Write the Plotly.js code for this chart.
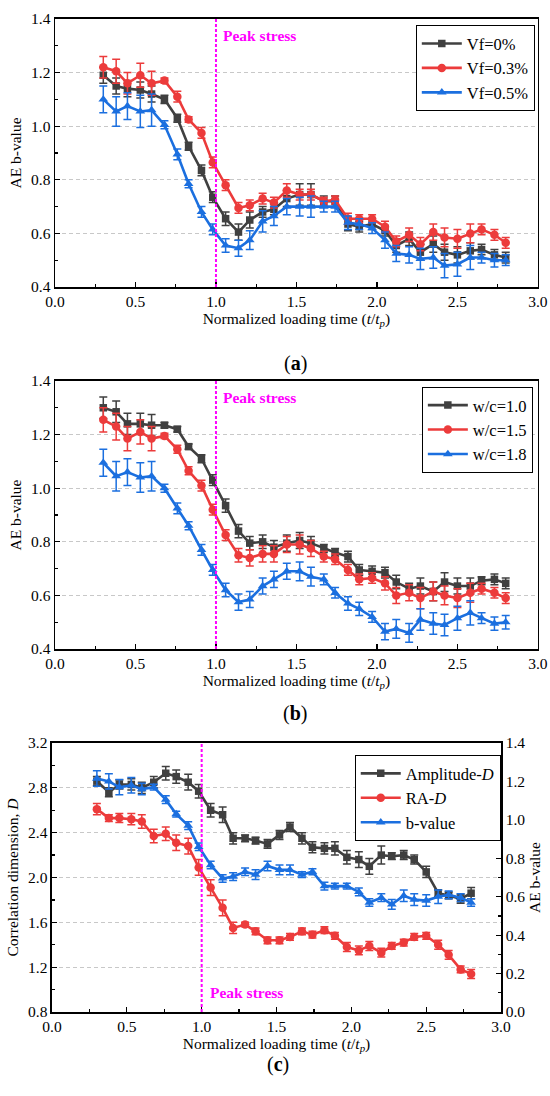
<!DOCTYPE html>
<html>
<head>
<meta charset="utf-8">
<script src="https://cdn.plot.ly/plotly-3.0.1.min.js"></script>
<style>html,body{margin:0;padding:0;background:#fff}#chart{width:550px;height:1096px}</style>
</head>
<body>
<div id="chart"></div>
<script>
// Normalized loading time t/tp
const tNorm = [0.30,0.38,0.45,0.53,0.60,0.68,0.76,0.83,0.91,0.98,1.06,1.14,1.21,1.29,1.36,1.44,1.52,1.59,1.67,1.74,1.82,1.89,1.97,2.05,2.12,2.20,2.27,2.35,2.42,2.50,2.58,2.65,2.73,2.80];

// Panel (a): fibre volume fraction
const vf0 = [1.19,1.15,1.14,1.135,1.12,1.10,1.03,0.925,0.835,0.735,0.655,0.605,0.65,0.68,0.69,0.73,0.745,0.745,0.72,0.72,0.635,0.625,0.635,0.61,0.555,0.58,0.53,0.56,0.53,0.52,0.535,0.54,0.52,0.51];
const vf0Err = [0.03,0.03,0.03,0.03,0.03,0.015,0.015,0.015,0.02,0.02,0.025,0.03,0.03,0.02,0.02,0.03,0.04,0.04,0.02,0.02,0.025,0.02,0.02,0.02,0.025,0.025,0.03,0.03,0.03,0.03,0.03,0.02,0.02,0.02];
const vf03 = [1.22,1.205,1.16,1.19,1.16,1.17,1.11,1.025,0.975,0.865,0.78,0.695,0.705,0.73,0.715,0.76,0.745,0.745,0.72,0.725,0.655,0.655,0.655,0.625,0.57,0.595,0.56,0.605,0.585,0.58,0.60,0.615,0.595,0.565];
const vf03Err = [0.04,0.045,0.04,0.045,0.045,0.01,0.02,0.01,0.02,0.02,0.02,0.02,0.02,0.02,0.02,0.025,0.02,0.02,0.015,0.015,0.02,0.015,0.015,0.02,0.02,0.025,0.025,0.03,0.035,0.035,0.035,0.02,0.02,0.02];
const vf05 = [1.10,1.055,1.075,1.055,1.06,1.005,0.895,0.785,0.68,0.615,0.555,0.545,0.575,0.645,0.665,0.70,0.70,0.70,0.70,0.70,0.64,0.635,0.62,0.575,0.525,0.52,0.505,0.51,0.48,0.485,0.51,0.51,0.50,0.50];
const vf05Err = [0.05,0.055,0.05,0.06,0.06,0.015,0.02,0.015,0.02,0.02,0.025,0.03,0.035,0.04,0.035,0.03,0.035,0.04,0.02,0.02,0.025,0.02,0.02,0.03,0.03,0.03,0.04,0.04,0.045,0.045,0.045,0.02,0.025,0.02];

// Panel (b): water-cement ratio
const wc10 = [1.30,1.285,1.24,1.24,1.235,1.235,1.22,1.155,1.11,1.03,0.935,0.84,0.795,0.80,0.78,0.795,0.805,0.795,0.775,0.76,0.745,0.695,0.69,0.685,0.65,0.625,0.635,0.615,0.65,0.635,0.635,0.655,0.66,0.645];
const wc10Err = [0.04,0.04,0.04,0.04,0.04,0.01,0.01,0.01,0.015,0.02,0.025,0.025,0.025,0.025,0.025,0.03,0.03,0.025,0.015,0.015,0.02,0.02,0.02,0.02,0.025,0.02,0.03,0.035,0.035,0.03,0.03,0.015,0.02,0.02];
const wc15 = [1.255,1.23,1.185,1.21,1.185,1.195,1.145,1.065,1.01,0.92,0.825,0.75,0.74,0.755,0.755,0.79,0.79,0.775,0.745,0.735,0.695,0.66,0.665,0.645,0.60,0.61,0.59,0.615,0.60,0.59,0.61,0.625,0.61,0.59];
const wc15Err = [0.045,0.05,0.045,0.045,0.045,0.01,0.015,0.015,0.02,0.02,0.02,0.025,0.03,0.03,0.03,0.03,0.035,0.03,0.02,0.02,0.02,0.02,0.02,0.025,0.03,0.03,0.04,0.035,0.035,0.035,0.035,0.02,0.02,0.02];
const wc18 = [1.095,1.045,1.06,1.04,1.045,1.00,0.925,0.86,0.77,0.695,0.62,0.575,0.585,0.635,0.66,0.69,0.69,0.67,0.66,0.61,0.57,0.55,0.52,0.465,0.475,0.46,0.51,0.495,0.49,0.515,0.535,0.515,0.495,0.50];
const wc18Err = [0.05,0.055,0.05,0.055,0.055,0.015,0.02,0.015,0.02,0.02,0.025,0.03,0.03,0.03,0.03,0.03,0.035,0.035,0.02,0.02,0.025,0.025,0.02,0.03,0.035,0.035,0.04,0.04,0.04,0.045,0.045,0.02,0.025,0.025];

// Panel (c): correlation dimension and b-value
const ampD = [2.86,2.76,2.83,2.83,2.80,2.85,2.93,2.90,2.85,2.77,2.60,2.56,2.35,2.35,2.33,2.30,2.38,2.45,2.35,2.27,2.26,2.26,2.18,2.16,2.10,2.20,2.19,2.20,2.16,2.05,1.86,1.84,1.81,1.86];
const ampDErr = [0.04,0.04,0.04,0.05,0.05,0.05,0.06,0.06,0.07,0.06,0.06,0.07,0.05,0.03,0.03,0.04,0.04,0.04,0.05,0.05,0.05,0.06,0.06,0.07,0.07,0.08,0.03,0.04,0.04,0.05,0.03,0.03,0.04,0.05];
const raD = [2.61,2.53,2.53,2.52,2.50,2.37,2.39,2.31,2.28,2.09,1.91,1.73,1.55,1.58,1.52,1.44,1.44,1.47,1.52,1.49,1.53,1.48,1.38,1.35,1.39,1.33,1.39,1.42,1.47,1.48,1.40,1.31,1.18,1.14];
const raDErr = [0.05,0.03,0.04,0.05,0.06,0.06,0.06,0.07,0.07,0.07,0.07,0.07,0.05,0.02,0.03,0.03,0.03,0.03,0.03,0.03,0.03,0.03,0.04,0.04,0.04,0.04,0.03,0.03,0.03,0.03,0.04,0.04,0.03,0.04];
const bVal = [1.215,1.20,1.17,1.18,1.16,1.17,1.105,1.03,0.97,0.86,0.765,0.695,0.705,0.73,0.715,0.76,0.74,0.74,0.715,0.73,0.655,0.655,0.655,0.625,0.57,0.595,0.56,0.605,0.585,0.58,0.60,0.61,0.595,0.57];
const bValErr = [0.04,0.04,0.04,0.04,0.03,0.015,0.02,0.015,0.02,0.02,0.02,0.02,0.02,0.02,0.025,0.025,0.025,0.025,0.015,0.015,0.02,0.015,0.015,0.02,0.02,0.02,0.025,0.03,0.03,0.03,0.035,0.02,0.02,0.02];

const GRAY = '#404040', RED = '#ec3b3b', BLUE = '#1b6fdf', MAG = '#ff00ff';
const SERIF = 'Liberation Serif, Times New Roman, serif';

function tr(y, err, name, color, symbol, xa, ya, leg, msize) {
  return {
    x: tNorm, y: y, name: name, type: 'scatter', mode: 'lines+markers',
    xaxis: xa, yaxis: ya, legend: leg,
    line: {color: color, width: 2.6},
    marker: {color: color, symbol: symbol, size: msize || 8},
    error_y: {type: 'data', array: err, visible: true, color: color, thickness: 1.5, width: 4}
  };
}

const data = [
  tr(vf0, vf0Err, 'Vf=0%', GRAY, 'square', 'x', 'y', 'legend', 7.5),
  tr(vf03, vf03Err, 'Vf=0.3%', RED, 'circle', 'x', 'y', 'legend', 8.5),
  tr(vf05, vf05Err, 'Vf=0.5%', BLUE, 'triangle-up', 'x', 'y', 'legend', 8.5),
  tr(wc10, wc10Err, 'w/c=1.0', GRAY, 'square', 'x2', 'y2', 'legend2', 7.5),
  tr(wc15, wc15Err, 'w/c=1.5', RED, 'circle', 'x2', 'y2', 'legend2', 8.5),
  tr(wc18, wc18Err, 'w/c=1.8', BLUE, 'triangle-up', 'x2', 'y2', 'legend2', 8.5),
  tr(ampD, ampDErr, 'Amplitude-<i>D</i>', GRAY, 'square', 'x3', 'y3', 'legend3', 7.5),
  tr(raD, raDErr, 'RA-<i>D</i>', RED, 'circle', 'x3', 'y3', 'legend3', 8.5),
  tr(bVal, bValErr, 'b-value', BLUE, 'triangle-up', 'x3', 'y4', 'legend3', 8.5)
];

const tickFont = {family: SERIF, size: 15.5, color: '#000'};
const titleFont = {family: SERIF, size: 15.5, color: '#000'};
const xTitle = 'Normalized loading time (<i>t</i>/<i>t</i><sub><i>p</i></sub>)';

function xAx(dom, anchor) {
  return {
    domain: dom, anchor: anchor, range: [0, 3], dtick: 0.5, tickformat: '.1f',
    showline: true, mirror: true, linecolor: '#000', linewidth: 1.5,
    ticks: 'inside', ticklen: 5, tickwidth: 1.2, tickcolor: '#000',
    minor: {dtick: 0.25, ticks: 'inside', ticklen: 3, tickwidth: 1.2, tickcolor: '#000'},
    showgrid: false, zeroline: false, tickfont: tickFont,
    title: {text: xTitle, font: titleFont, standoff: 2}
  };
}
function yAx(dom, anchor, range, dtick, title, extra) {
  const o = {
    domain: dom, anchor: anchor, range: range, dtick: dtick, tickformat: '.1f',
    showline: true, mirror: true, linecolor: '#000', linewidth: 1.5,
    ticks: 'inside', ticklen: 5, tickwidth: 1.2, tickcolor: '#000',
    minor: {dtick: dtick / 2, ticks: 'inside', ticklen: 3, tickwidth: 1.2, tickcolor: '#000', showgrid: false},
    showgrid: true, gridcolor: '#c8c8c8', griddash: '4px,3px', gridwidth: 1,
    zeroline: false, tickfont: tickFont,
    title: {text: title, font: titleFont, standoff: 5}
  };
  return Object.assign(o, extra || {});
}

const legBase = {bordercolor: '#000', borderwidth: 1, bgcolor: '#fff',
  font: {family: SERIF, size: 16.5, color: '#000'}, xanchor: 'left', yanchor: 'top',
  tracegroupgap: 0, itemwidth: 40};

const peakFont = {family: SERIF, size: 15.5, color: MAG, weight: 'bold'};

const layout = {
  width: 550, height: 1096, margin: {l: 0, r: 0, t: 0, b: 0},
  paper_bgcolor: '#fff', plot_bgcolor: '#fff', showlegend: true,
  xaxis: xAx([0.1, 0.978], 'y'),
  yaxis: yAx([0.7381, 0.9827], 'x', [0.4, 1.4], 0.2, 'AE b-value'),
  xaxis2: xAx([0.1, 0.978], 'y2'),
  yaxis2: yAx([0.4078, 0.6524], 'x2', [0.4, 1.4], 0.2, 'AE b-value'),
  xaxis3: xAx([0.0945, 0.911], 'y3'),
  yaxis3: yAx([0.0766, 0.3221], 'x3', [0.8, 3.2], 0.4, 'Correlation dimension, <i>D</i>', {mirror: false}),
  yaxis4: yAx([0.0766, 0.3221], 'x3', [0, 1.4], 0.2, 'AE b-value',
    {overlaying: 'y3', side: 'right', showgrid: false, mirror: false}),
  legend: Object.assign({}, legBase, {x: 0.756, y: 0.977}),
  legend2: Object.assign({}, legBase, {x: 0.767, y: 0.647}),
  legend3: Object.assign({}, legBase, {x: 0.645, y: 0.311}),
  shapes: [
    {type: 'line', xref: 'x', yref: 'y domain', x0: 1, x1: 1, y0: 0, y1: 1, line: {color: MAG, width: 2, dash: '3px,2px'}},
    {type: 'line', xref: 'x2', yref: 'y2 domain', x0: 1, x1: 1, y0: 0, y1: 1, line: {color: MAG, width: 2, dash: '3px,2px'}},
    {type: 'line', xref: 'x3', yref: 'y3 domain', x0: 1, x1: 1, y0: 0, y1: 1, line: {color: MAG, width: 2, dash: '3px,2px'}}
  ],
  annotations: [
    {xref: 'x', yref: 'y', x: 1.03, y: 1.34, text: '<b>Peak stress</b>', showarrow: false, xanchor: 'left', yanchor: 'middle', font: peakFont},
    {xref: 'x2', yref: 'y2', x: 1.03, y: 1.34, text: '<b>Peak stress</b>', showarrow: false, xanchor: 'left', yanchor: 'middle', font: peakFont},
    {xref: 'x3', yref: 'y3', x: 1.04, y: 0.97, text: '<b>Peak stress</b>', showarrow: false, xanchor: 'left', yanchor: 'middle', font: peakFont},
    {xref: 'paper', yref: 'paper', x: 0.537, y: 1 - 350/1096, text: '(<b>a</b>)', showarrow: false, font: {family: SERIF, size: 20, color: '#000'}},
    {xref: 'paper', yref: 'paper', x: 0.537, y: 1 - 713/1096, text: '(<b>b</b>)', showarrow: false, font: {family: SERIF, size: 20, color: '#000'}},
    {xref: 'paper', yref: 'paper', x: 0.505, y: 1 - 1078/1096, text: '(<b>c</b>)', showarrow: false, font: {family: SERIF, size: 20, color: '#000'}}
  ]
};

Plotly.newPlot('chart', data, layout, {staticPlot: true, displayModeBar: false});
</script>
</body>
</html>
